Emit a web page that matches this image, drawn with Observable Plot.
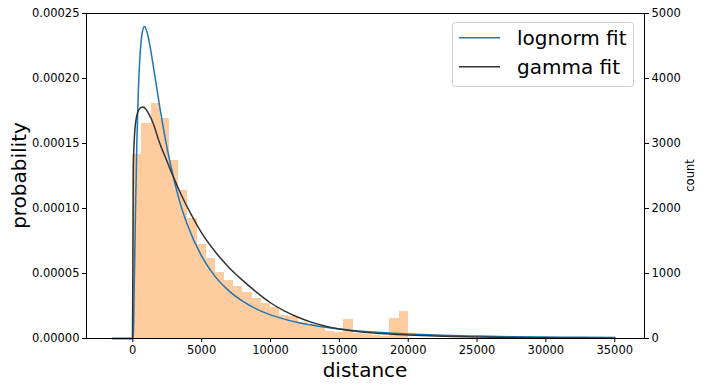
<!DOCTYPE html>
<html><head><meta charset="utf-8">
<script src="https://cdn.jsdelivr.net/npm/d3@7"></script>
<script src="https://cdn.jsdelivr.net/npm/@observablehq/plot@0.6"></script>
<style>
html,body{margin:0;padding:0;background:#fff}
svg{font-family:"DejaVu Sans",sans-serif}
</style>
</head><body><div id="chart"></div>
<script>
// histogram: 30 bins from 0 to 20000 (counts, right axis)
const binStart = 0;
const binEnd = 20000;
const binCounts = [2835, 3308, 3620, 3392, 2743, 2282, 1851, 1451, 1235, 1020,
                   897, 805, 702, 615, 538, 484, 360, 340, 240, 215,
                   185, 105, 100, 300, 78, 55, 40, 25, 312, 420];

// lognorm fit (probability)
const lognormX = [-1500, 0, 50, 100, 200, 300, 400, 500, 600, 700, 850, 1000, 1200, 1500, 2000, 2500, 3000, 3500, 4000, 5000, 6000, 7000, 8000, 9000, 10000, 12000, 14000, 16000, 18000, 20000, 22500, 25000, 27500, 30000, 32500, 35000];
const lognormY = [0, 0, 0.000006, 0.000035, 0.000099, 0.000152, 0.000189, 0.000213, 0.000228, 0.000236, 0.000240, 0.000237, 0.000228, 0.000209, 0.0001755, 0.000146, 0.000122, 0.000102, 0.0000866, 0.0000633, 0.0000474, 0.0000364, 0.0000285, 0.0000226, 0.0000182, 0.0000123, 0.0000086, 0.0000062, 0.0000046, 0.0000035, 0.0000025, 0.0000019, 0.0000014, 0.0000011, 0.0000009, 0.0000007];

// gamma fit (probability)
const gammaX = [-1500, -20, 40, 120, 250, 450, 700, 900, 1200, 1500, 1900, 2500, 3000, 3500, 4200, 5000, 6000, 7000, 8000, 9000, 10000, 11000, 12000, 13000, 14000, 15000, 16000, 18000, 20000, 22500, 25000, 27500, 30000, 32500, 35000];
const gammaY = [0, 0, 0.000130, 0.000155, 0.000169, 0.000176, 0.000178, 0.000177, 0.000172, 0.000165, 0.000152, 0.000136, 0.000123, 0.000111, 0.0000962, 0.0000812, 0.0000665, 0.0000545, 0.0000445, 0.0000355, 0.0000275, 0.0000212, 0.0000163, 0.0000124, 0.0000095, 0.0000073, 0.0000057, 0.0000038, 0.0000027, 0.0000017, 0.0000011, 0.0000007, 0.0000005, 0.0000003, 0.0000002];

const xTicks = [0, 5000, 10000, 15000, 20000, 25000, 30000, 35000];
const probTicks = [0, 0.00005, 0.0001, 0.00015, 0.0002, 0.00025];
const countTicks = [0, 1000, 2000, 3000, 4000, 5000];
const seriesNames = ["lognorm fit", "gamma fit"];
const seriesColors = ["#1f77b4", "#333333"];

// twin axis: 5000 counts <-> 0.00025 probability
const probPerCount = 0.00025 / 5000;
const binW = (binEnd - binStart) / binCounts.length;
const bins = binCounts.map((c, i) => ({x1: binStart + i * binW, x2: binStart + (i + 1) * binW, y: c * probPerCount}));
const lognorm = lognormX.map((x, i) => ({x, y: lognormY[i]}));
const gamma = gammaX.map((x, i) => ({x, y: gammaY[i]}));

const chart = Plot.plot({
  width: 705, height: 388,
  marginLeft: 86, marginRight: 61, marginTop: 13, marginBottom: 50,
  x: {domain: [-3360, 37160]},
  y: {domain: [0, 0.00025]},
  style: {fontFamily: "'DejaVu Sans', sans-serif", fontSize: "11.5px", color: "#000", background: "#fff", overflow: "visible"},
  marks: [
    Plot.rectY(bins, {x1: "x1", x2: "x2", y: "y", fill: "#ff7f0e", fillOpacity: 0.4, inset: 0, shapeRendering: "crispEdges"}),
    Plot.line(lognorm, {x: "x", y: "y", stroke: seriesColors[0], strokeWidth: 1.5, curve: "monotone-x"}),
    Plot.line(gamma, {x: "x", y: "y", stroke: seriesColors[1], strokeWidth: 1.5, curve: "monotone-x"}),
    Plot.frame({stroke: "#000", strokeWidth: 1}),
    Plot.axisX({ticks: xTicks, tickSize: 4, tickPadding: 3, label: null, tickFormat: d => String(d), fontSize: 11.5}),
    Plot.axisY({anchor: "left", ticks: probTicks, tickSize: 4, tickPadding: 3, label: null, tickFormat: d => d.toFixed(5), fontSize: 11.5}),
    Plot.axisY({anchor: "right", ticks: countTicks.map(c => c * probPerCount), tickSize: 4, tickPadding: 3, label: null, tickFormat: d => String(Math.round(d / probPerCount)), fontSize: 11.5})
  ]
});
document.getElementById("chart").appendChild(chart);

const svg = d3.select(chart);
// axis titles
svg.append("text").attr("transform", "translate(26,175.5) rotate(-90)").attr("text-anchor", "middle")
  .attr("font-size", 20).attr("fill", "#000").text("probability");
svg.append("text").attr("x", 365).attr("y", 377).attr("text-anchor", "middle")
  .attr("font-size", 20).attr("fill", "#000").text("distance");
svg.append("text").attr("transform", "translate(694,175.5) rotate(-90)").attr("text-anchor", "middle")
  .attr("font-size", 11.5).attr("fill", "#000").text("count");

// legend
const lg = svg.append("g");
lg.append("rect").attr("x", 452.5).attr("y", 22.5).attr("width", 181).attr("height", 64).attr("rx", 3)
  .attr("fill", "#fff").attr("fill-opacity", 0.8).attr("stroke", "#cccccc").attr("stroke-width", 1);
seriesNames.forEach((name, i) => {
  const yy = 37.7 + i * 29;
  lg.append("line").attr("x1", 459).attr("x2", 500).attr("y1", yy).attr("y2", yy)
    .attr("stroke", seriesColors[i]).attr("stroke-width", 1.5);
  lg.append("text").attr("x", 517).attr("y", yy + 7).attr("text-anchor", "start")
    .attr("font-size", 20).attr("fill", "#000").text(name);
});
</script>
</body></html>
